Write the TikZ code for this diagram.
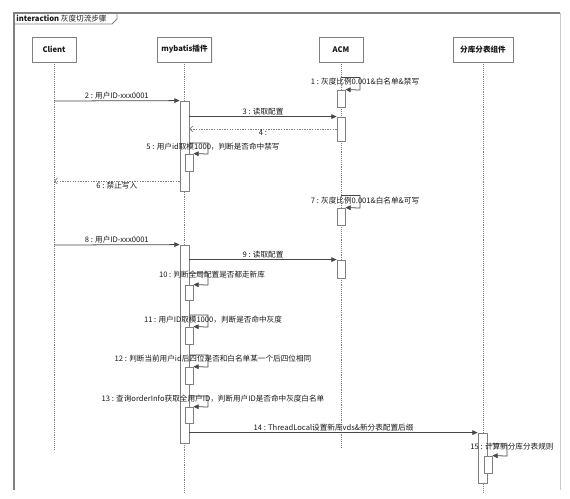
\documentclass[tikz,border=0pt]{standalone}
\usepackage{fontspec}
\setmainfont{Noto Sans CJK SC}
\usetikzlibrary{arrows.meta,fit,shadows}
\definecolor{linegray}{RGB}{128,128,128}
\definecolor{txtgray}{RGB}{25,25,25}
\tikzset{
  head/.style={draw=linegray, fill=white, line width=0.7pt, minimum height=0.75cm,
    font=\fontsize{6.5}{8}\selectfont\bfseries, text=txtgray,
    drop shadow={opacity=0.12, shadow xshift=0.8pt, shadow yshift=-0.8pt}},
  lifeline/.style={draw=linegray, line width=0.6pt, dash pattern=on 0.8pt off 0.8pt},
  act/.style={draw=linegray, fill=white, inner sep=0pt, line width=0.7pt},
  msg/.style={draw=linegray!55!black, line width=0.65pt, -{Triangle[length=4.5pt,width=4pt]}},
  ret/.style={draw=linegray, line width=0.6pt, dash pattern=on 1.2pt off 1pt,
    -{Straight Barb[length=2.5pt,width=5pt]}},
  lbl/.style={font=\fontsize{6.5}{8}\selectfont, text=txtgray, inner sep=1pt},
}
\begin{document}
\begin{tikzpicture}[x=0.03cm, y=-0.03cm]
  \useasboundingbox (0,0) rectangle (570,498);

  % frame
  \draw[linegray, line width=0.9pt] (14,490) -- (14,13) -- (560,13);
  \draw[linegray!40, line width=0.5pt] (560,13) -- (560,490);
  \draw[linegray, line width=0.7pt] (14,24) -- (112,24) -- (117,19) -- (117,13);
  \node[lbl, anchor=west] (title) at (15,18.5) {\textbf{interaction} 灰度切流步骤};

  % heads
  \node[head, minimum width=1.32cm] (client)  at (54,49.5)  {Client};
  \node[head, minimum width=1.5cm]  (mybatis) at (184.5,49.5) {mybatis插件};
  \node[head, minimum width=1.32cm] (acm)     at (341,49.5) {ACM};
  \node[head, minimum width=1.8cm]  (shard)   at (483,49.5) {分库分表组件};

  \foreach \n/\e in {client/450, mybatis/492, acm/447, shard/492}
    \draw[lifeline] (\n.south) -- (\n.south |- 0,\e);

  % activations
  \node[act, fit={(337,90)(345,107)}]   (aA) {};
  \node[act, fit={(180,101)(189,191)}]  (mA) {};
  \node[act, fit={(337,117)(345,141)}]  (aB) {};
  \node[act, fit={(185,154)(193,171)}]  (m5) {};
  \node[act, fit={(337,208)(345,225)}]  (aC) {};
  \node[act, fit={(180,245)(189,443)}]  (mB) {};
  \node[act, fit={(337,260)(345,278)}]  (aD) {};
  \node[act, fit={(185,285)(193,300)}]  (m10) {};
  \node[act, fit={(185,327)(193,344)}]  (m11) {};
  \node[act, fit={(185,367)(193,384)}]  (m12) {};
  \node[act, fit={(185,407)(193,423)}]  (m13) {};
  \node[act, fit={(478,433)(487,483)}]  (sA) {};
  \node[act, fit={(484,456)(492,473)}]  (s15) {};

  \coordinate (c2) at (54,101);
  \coordinate (c6) at (54,181);
  \coordinate (c8) at (54,245);

  % messages
  \draw[msg] (aA.north -| acm.south) ++(0,-12) coordinate (l1) -| (360,90) -- (aA.north east);
  \node[lbl] (t1) at (365,82) {1 : 灰度比例0.001\&白名单\&禁写};

  \draw[msg] (c2) -- node[lbl, above] (t2) {2 : 用户ID-xxx0001} (mA.north west);
  \draw[msg] (mA.east |- aB.north) -- node[lbl, above] (t3) {3 : 读取配置} (aB.north west);
  \draw[ret] (aB.west |- 0,129) -- node[lbl, below] (t4) {4 :} (mA.east |- 0,129);

  \draw[msg] (mA.east |- 0,143) -| (208,154) -- (m5.north east);
  \node[lbl] (t5) at (213,147) {5 : 用户id取模1000，判断是否命中禁写};

  \draw[ret] (mA.west |- c6) -- node[lbl, below] (t6) {6 : 禁止写入} (c6);

  \draw[msg] (aC.north -| acm.south) ++(0,-12) -| (360,208) -- (aC.north east);
  \node[lbl] (t7) at (365,201) {7 : 灰度比例0.001\&白名单\&可写};

  \draw[msg] (c8) -- node[lbl, above] (t8) {8 : 用户ID-xxx0001} (mB.north west);
  \draw[msg] (mB.east |- aD.north) -- node[lbl, above] (t9) {9 : 读取配置} (aD.north west);

  \draw[msg] (mB.east |- 0,273) -| (208,285) -- (m10.north east);
  \node[lbl] (t10) at (212,275) {10 : 判断全局配置是否都走新库};
  \draw[msg] (mB.east |- 0,315) -| (208,327) -- (m11.north east);
  \node[lbl] (t11) at (213,320) {11 : 用户ID取模1000，判断是否命中灰度};
  \draw[msg] (mB.east |- 0,355) -| (208,367) -- (m12.north east);
  \node[lbl] (t12) at (213,359) {12 : 判断当前用户id后四位是否和白名单某一个后四位相同};
  \draw[msg] (mB.east |- 0,396) -| (208,407) -- (m13.north east);
  \node[lbl] (t13) at (213,399) {13 : 查询orderInfo获取全用户ID，判断用户ID是否命中灰度白名单};

  \draw[msg] (mB.east |- sA.north) -- node[lbl, above] (t14) {14 : ThreadLocal设置新库vds\&新分表配置后缀} (sA.north west);

  \draw[msg] (sA.east |- 0,444) -| (507,456) -- (s15.north east);
  \node[lbl] (t15) at (512,447) {15 : 计算新分库分表规则};
\end{tikzpicture}
\end{document}
